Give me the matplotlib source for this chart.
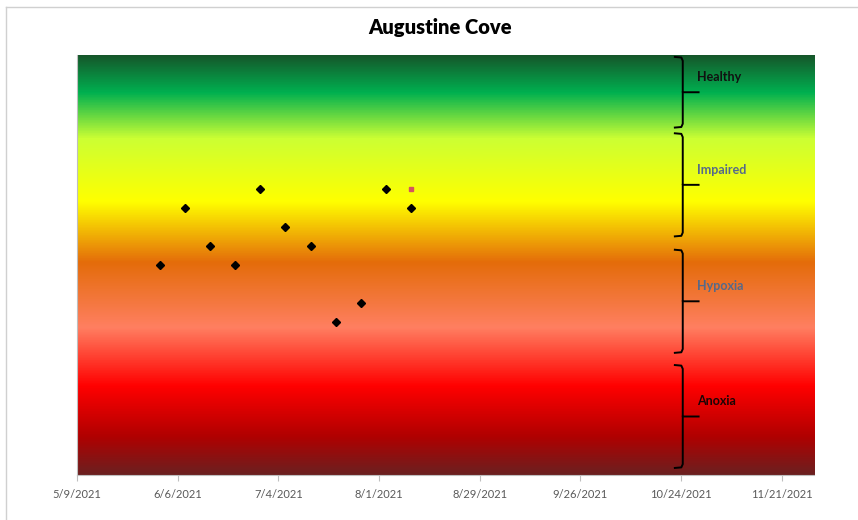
import datetime as dt
import numpy as np
import matplotlib
matplotlib.use("Agg")
import matplotlib.pyplot as plt
import matplotlib.dates as mdates
from matplotlib.colors import LinearSegmentedColormap
from matplotlib.lines import Line2D

plt.rcParams['font.family'] = ['Lato', 'DejaVu Sans']

# data
sample_dates = ["2021-06-01", "2021-06-08", "2021-06-15", "2021-06-22", "2021-06-29",
                "2021-07-06", "2021-07-13", "2021-07-20", "2021-07-27", "2021-08-03",
                "2021-08-10"]
sample_values = [11, 14, 12, 11, 15, 13, 12, 8, 9, 15, 14]
extra_dates = ["2021-08-10"]
extra_values = [15]

# condition bands (label, bottom, top, label colour)
band_names = ["Healthy", "Impaired", "Hypoxia", "Anoxia"]
band_bottom = [18.2, 12.5, 6.4, 0.37]
band_top = [21.9, 17.9, 11.8, 5.76]
band_colors = ["#111111", "#55698a", "#55698a", "#1a0505"]

x_start = dt.date(2021, 5, 9)
x_days = 205
y_max = 22

# background gradient, top -> bottom
grad_stops = [(0.0, "#16552a"), (0.09, "#00b050"), (0.20, "#ccff33"), (0.35, "#ffff00"),
              (0.495, "#e46c0a"), (0.65, "#ff7f61"), (0.79, "#ff0000"), (0.91, "#b00000"),
              (1.0, "#6b2020")]
cmap = LinearSegmentedColormap.from_list("bands", grad_stops)

fig = plt.figure(figsize=(8.58, 5.2), dpi=100)
ax = fig.add_axes([0.0897, 0.0865, 0.859, 0.8077])

grad = np.linspace(0, 1, 512).reshape(-1, 1)
ax.imshow(grad, cmap=cmap, aspect='auto', extent=[0, 1, 0, 1], transform=ax.transAxes,
          origin='upper', zorder=0)

d0 = mdates.date2num(x_start)
ax.set_xlim(d0, d0 + x_days)
ax.set_ylim(0, y_max)

xs = [mdates.date2num(dt.date.fromisoformat(d)) for d in sample_dates]
ax.plot(xs, sample_values, linestyle='none', marker='D', markersize=4.5, color='black', zorder=3)
xe = [mdates.date2num(dt.date.fromisoformat(d)) for d in extra_dates]
ax.plot(xe, extra_values, linestyle='none', marker='s', markersize=3.5, color='#d4545e', zorder=3)

# braces with labels
bx = d0 + 168.5
for name, lo, hi, col in zip(band_names, band_bottom, band_top, band_colors):
    mid = (lo + hi) / 2
    ax.plot([bx - 2.2, bx - 0.4, bx, bx, bx + 4.4], [hi, hi - 0.03, hi - 0.2, mid, mid],
            color='black', lw=1.4, zorder=4, solid_joinstyle='round')
    ax.plot([bx - 2.2, bx - 0.4, bx, bx], [lo, lo + 0.03, lo + 0.2, mid],
            color='black', lw=1.4, zorder=4, solid_joinstyle='round')
    ax.text(bx + 4.0, mid + 0.8, name, fontsize=9, fontweight='bold', color=col,
            ha='left', va='center', zorder=5)

ticks = [d0 + 28 * i for i in range(8)]
ax.set_xticks(ticks)
ax.set_xticklabels([mdates.num2date(t).strftime("%-m/%-d/%Y") for t in ticks])
ax.tick_params(axis='x', length=4, color='#bfbfbf', labelcolor='#595959', labelsize=8, pad=6)
ax.set_yticks([])
for s in ['top', 'right']:
    ax.spines[s].set_visible(False)
ax.spines['left'].set_color('#bfbfbf')
ax.spines['bottom'].set_color('#bfbfbf')

fig.text(0.513, 0.948, "Augustine Cove", ha='center', va='center', fontsize=14.5,
         fontweight='heavy', color='black')

# chart frame
fig.add_artist(Line2D([0.007, 1.0], [0.986, 0.986], color='#d0d0d0', lw=1))
fig.add_artist(Line2D([0.007, 0.007], [0.0, 0.986], color='#d0d0d0', lw=1))

fig.savefig("out.png", dpi=100)
